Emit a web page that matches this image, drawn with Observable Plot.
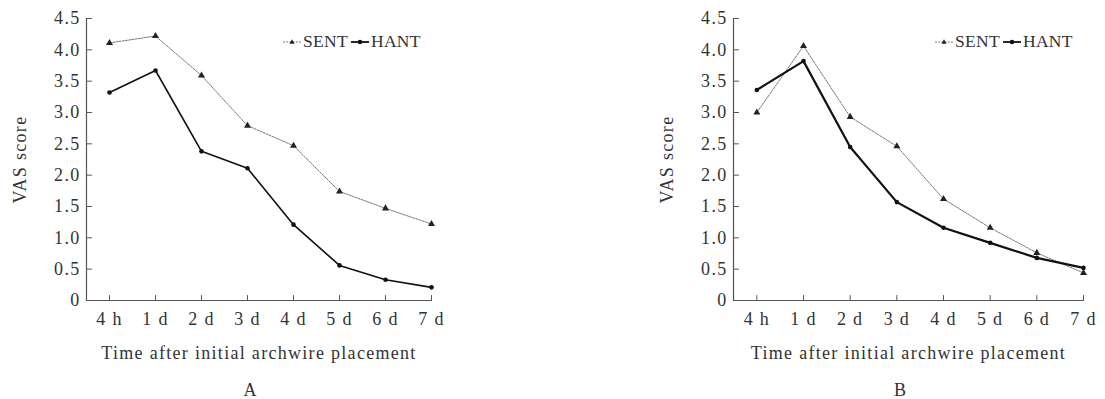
<!DOCTYPE html>
<html><head><meta charset="utf-8">
<script src="https://cdn.jsdelivr.net/npm/d3@7"></script>
<script src="https://cdn.jsdelivr.net/npm/@observablehq/plot@0.6"></script>
<style>
body{margin:0;background:#fff;}
#root{position:relative;width:1105px;height:399px;font-family:"Liberation Serif","Times New Roman",serif;color:#333;overflow:hidden;}
.panel{position:absolute;top:0;}
.legend{position:absolute;font-size:17.5px;display:flex;align-items:center;line-height:1;letter-spacing:0.3px;}
.legend svg{display:block;}
.legend span{margin:0 3px 0 2px;}
.cap{position:absolute;font-size:18px;transform:translateX(-50%);}
</style></head><body><div id="root"></div>
<script>
// ---- data ----
const timeLabels = ["4 h", "1 d", "2 d", "3 d", "4 d", "5 d", "6 d", "7 d"];
const sentA = [4.11, 4.22, 3.59, 2.79, 2.47, 1.74, 1.47, 1.22];
const hantA = [3.32, 3.67, 2.38, 2.11, 1.21, 0.56, 0.33, 0.21];
const sentB = [3.00, 4.06, 2.93, 2.46, 1.62, 1.16, 0.76, 0.44];
const hantB = [3.36, 3.82, 2.45, 1.57, 1.16, 0.92, 0.68, 0.52];
const yTicks = [0, 0.5, 1, 1.5, 2, 2.5, 3, 3.5, 4, 4.5];
const seriesNames = ["SENT", "HANT"];
const xTitle = "Time after initial archwire placement";
const yTitle = "VAS score";

const idx = timeLabels.map((_, i) => i);
const xDomain = [-0.5, timeLabels.length - 1];
const axisColor = "#555";
const textColor = "#333";
const tickShape = {draw(context, l) { context.moveTo(0, 0); context.lineTo(0, -l); }};

function makePanel(sent, hant, cfg) {
  const sentData = sent.map((v, i) => ({i, v}));
  const hantData = hant.map((v, i) => ({i, v}));
  const svg = Plot.plot({
    width: cfg.width, height: 370,
    marginLeft: 86, marginRight: cfg.marginRight, marginTop: 18, marginBottom: 70,
    style: {fontFamily: '"Liberation Serif","Times New Roman",serif', fontSize: "18px", color: textColor, background: "transparent", overflow: "visible"},
    x: {type: "linear", domain: xDomain},
    y: {domain: [0, 4.5]},
    marks: [
      Plot.ruleY([0], {stroke: axisColor, strokeWidth: 1.2}),
      Plot.ruleX([xDomain[0]], {stroke: axisColor, strokeWidth: 1.2}),
      Plot.vector(idx, {x: d => d, frameAnchor: "bottom", length: 5, anchor: "start", shape: tickShape, stroke: axisColor, strokeWidth: 1}),
      Plot.vector(yTicks.slice(1), {y: d => d, frameAnchor: "left", length: 5, rotate: 90, anchor: "start", shape: tickShape, stroke: axisColor, strokeWidth: 1}),
      Plot.axisX({ticks: idx, tickFormat: i => timeLabels[i], tickSize: 0, tickPadding: 12, label: xTitle, labelAnchor: "center", labelArrow: "none", labelOffset: 58, fill: textColor}),
      Plot.axisY({ticks: yTicks, tickFormat: v => v === 0 ? "0" : v.toFixed(1), tickSize: 0, tickPadding: 6, label: yTitle, labelAnchor: "center", labelArrow: "none", labelOffset: 73, fill: textColor}),
      Plot.line(sentData, {x: "i", y: "v", stroke: "#777", strokeWidth: 1, strokeDasharray: "2,1.2"}),
      Plot.dot(sentData, {x: "i", y: "v", symbol: "triangle", r: 2.6, fill: "#222"}),
      Plot.line(hantData, {x: "i", y: "v", stroke: "#111", strokeWidth: cfg.hantWidth}),
      Plot.dot(hantData, {x: "i", y: "v", symbol: "circle", r: 2.3, fill: "#111"})
    ]
  });
  svg.style.letterSpacing = "1.3px";
  return svg;
}

function legendHTML() {
  const sentIcon = `<svg width="18" height="10"><line x1="0" y1="5" x2="18" y2="5" stroke="#777" stroke-width="1" stroke-dasharray="2,1.2"/><path d="M9,2.2 L11.6,6.8 L6.4,6.8 Z" fill="#222"/></svg>`;
  const hantIcon = `<svg width="18" height="10"><line x1="0" y1="5" x2="18" y2="5" stroke="#111" stroke-width="1.8"/><circle cx="9" cy="5" r="2.3" fill="#111"/></svg>`;
  return `${sentIcon}<span>${seriesNames[0]}</span>${hantIcon}<span>${seriesNames[1]}</span>`;
}

const root = document.getElementById("root");
const panels = [
  {sent: sentA, hant: hantA, left: 0, width: 552, marginRight: 121, hantWidth: 1.6, legendLeft: 283, cap: "A", capX: 250},
  {sent: sentB, hant: hantB, left: 647, width: 458, marginRight: 22, hantWidth: 2.2, legendLeft: 935, cap: "B", capX: 900}
];
for (const p of panels) {
  const div = document.createElement("div");
  div.className = "panel";
  div.style.left = p.left + "px";
  div.appendChild(makePanel(p.sent, p.hant, p));
  root.appendChild(div);
  const lg = document.createElement("div");
  lg.className = "legend";
  lg.style.left = p.legendLeft + "px";
  lg.style.top = "33px";
  lg.innerHTML = legendHTML();
  root.appendChild(lg);
  const cap = document.createElement("div");
  cap.className = "cap";
  cap.style.left = p.capX + "px";
  cap.style.top = "380px";
  cap.textContent = p.cap;
  root.appendChild(cap);
}
</script></body></html>
